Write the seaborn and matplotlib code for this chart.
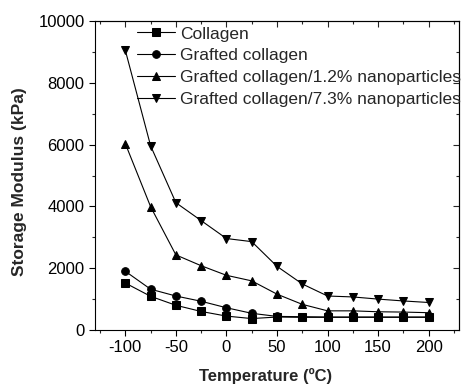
import matplotlib
matplotlib.use("Agg")
import matplotlib.pyplot as plt
import seaborn as sns
import pandas as pd
import numpy as np
from matplotlib.ticker import MultipleLocator

temps = [-100, -75, -50, -25, 0, 25, 50, 75, 100, 125, 150, 175, 200]
collagen = [1520, 1090, 800, 600, 450, 370, 420, 410, 410, 410, 410, 410, 410]
grafted = [1900, 1320, 1100, 930, 720, 540, 440, 430, 420, 420, 420, 420, 420]
grafted_12 = [6030, 3990, 2430, 2080, 1770, 1590, 1160, 830, 620, 620, 590, 580, 560]
grafted_73 = [9050, 5960, 4120, 3540, 2960, 2860, 2060, 1490, 1100, 1070, 1000, 940, 890]

names = ["Collagen", "Grafted collagen", "Grafted collagen/1.2% nanoparticles",
         "Grafted collagen/7.3% nanoparticles"]
series = [collagen, grafted, grafted_12, grafted_73]
markers = ["s", "o", "^", "v"]

rows = []
for n, vals in zip(names, series):
    for t, v in zip(temps, vals):
        rows.append({"Temperature": t, "Modulus": v, "Sample": n})
df = pd.DataFrame(rows)

sns.set_style("ticks")
plt.rcParams["font.family"] = ["Liberation Sans", "DejaVu Sans"]
plt.rcParams["axes.unicode_minus"] = False

fig = plt.figure(figsize=(4.61, 3.86), dpi=100)
ax = fig.add_axes([95/461, 1-330/386, (459-95)/461, (330-21)/386])

sns.lineplot(data=df, x="Temperature", y="Modulus", hue="Sample", style="Sample",
             hue_order=names, style_order=names,
             palette=["black"]*4, markers=dict(zip(names, markers)), dashes=False,
             markersize=5.5, markeredgecolor="black", linewidth=0.8, ax=ax)

ax.set_xlim(-130, 230)
ax.set_ylim(0, 10000)
ax.xaxis.set_major_locator(MultipleLocator(50))
ax.xaxis.set_minor_locator(MultipleLocator(25))
ax.yaxis.set_major_locator(MultipleLocator(2000))
ax.yaxis.set_minor_locator(MultipleLocator(1000))
ax.set_xticks([-100, -50, 0, 50, 100, 150, 200])
ax.tick_params(axis="both", which="major", direction="out", length=4, width=0.8,
               labelsize=12, colors="black")
ax.tick_params(axis="both", which="minor", direction="out", length=2.5, width=0.8)
for s in ax.spines.values():
    s.set_visible(True)
    s.set_linewidth(0.8)
    s.set_color("black")

top = ax.secondary_xaxis("top")
top.xaxis.set_major_locator(MultipleLocator(50))
top.xaxis.set_minor_locator(MultipleLocator(25))
top.tick_params(which="major", direction="in", length=4, width=0.8, labeltop=False)
top.tick_params(which="minor", direction="in", length=2.5, width=0.8)
right = ax.secondary_yaxis("right")
right.yaxis.set_major_locator(MultipleLocator(2000))
right.yaxis.set_minor_locator(MultipleLocator(1000))
right.tick_params(which="major", direction="in", length=4, width=0.8, labelright=False)
right.tick_params(which="minor", direction="in", length=2.5, width=0.8)

ax.set_xlabel("Temperature (ºC)", fontsize=12, fontweight="bold")
ax.set_ylabel("Storage Modulus (kPa)", fontsize=12.5, fontweight="bold")
ax.xaxis.set_label_coords(0.468, -0.122)
ax.yaxis.set_label_coords(-0.187, 0.48)

leg = ax.legend(loc="upper left", bbox_to_anchor=(0.095, 1.005), frameon=False,
                fontsize=12.5, handlelength=2.2, handletextpad=0.3, labelspacing=0.38,
                borderaxespad=0.0)

fig.savefig("out.png", dpi=100)
